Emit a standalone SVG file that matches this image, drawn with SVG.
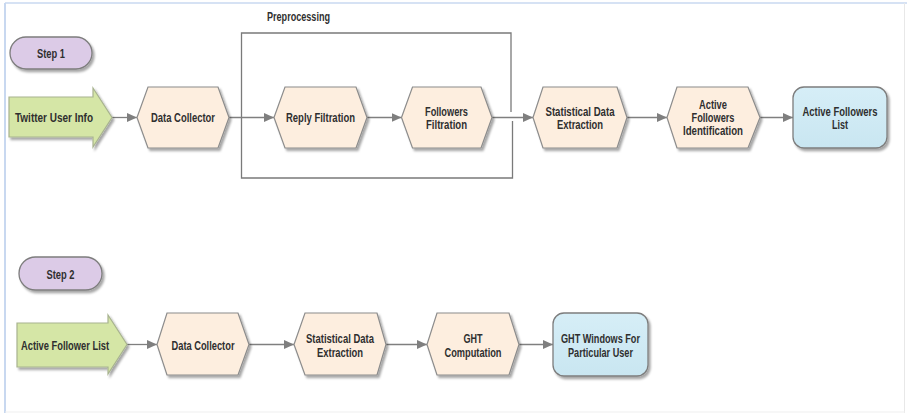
<svg xmlns="http://www.w3.org/2000/svg" width="907" height="413" viewBox="0 0 907 413">
<defs>
<filter id="sh" x="-10%" y="-10%" width="130%" height="135%">
<feDropShadow dx="2" dy="2.5" stdDeviation="1.2" flood-color="#000" flood-opacity="0.35"/>
</filter>
<marker id="ah" markerUnits="userSpaceOnUse" markerWidth="10" markerHeight="9" refX="10" refY="4.5" orient="auto">
<path d="M0,0 L10,4.5 L0,9 z" fill="#7f7f7f"/>
</marker>
<linearGradient id="blue" x1="0" y1="0" x2="0" y2="1">
<stop offset="0" stop-color="#d6eef7"/>
<stop offset="1" stop-color="#c9e6f1"/>
</linearGradient>
</defs>
<style>
.t{font-family:"Liberation Sans",Arial,sans-serif;font-weight:bold;font-size:12px;fill:#2f2f2f;text-anchor:middle}
.hex{fill:#fdeedf;stroke:#8c8c8c;stroke-width:1.2;filter:url(#sh)}
.arr{fill:#d5e6a6;stroke:#a8b38f;stroke-width:1.2;filter:url(#sh)}
.pill{fill:#dccbe7;stroke:#7d7d7d;stroke-width:1.3;filter:url(#sh)}
.box{fill:url(#blue);stroke:#7d7d7d;stroke-width:1.3;filter:url(#sh)}
.c{fill:none;stroke:#7f7f7f;stroke-width:1.3;marker-end:url(#ah)}
</style>
<rect width="907" height="413" fill="#fff"/>
<line x1="5" y1="3" x2="907" y2="3" stroke="#c8d8f0" stroke-width="1.5"/>
<line x1="5" y1="3" x2="5" y2="413" stroke="#c8d8f0" stroke-width="2"/>
<line x1="904.5" y1="3" x2="904.5" y2="413" stroke="#e8e8e8" stroke-width="1"/>
<line x1="5" y1="412" x2="905" y2="412" stroke="#efefef" stroke-width="1"/>

<g id="preprocessing">
<path d="M511,112 V33 H241.5 V178 H512.5 V121" fill="none" stroke="#7a7a7a" stroke-width="1.3"/>
<text class="t" x="298.5" y="20.5" textLength="63" lengthAdjust="spacingAndGlyphs">Preprocessing</text>
</g>

<g id="connectors">
<line class="c" x1="112" y1="117.5" x2="137" y2="117.5"/>
<line class="c" x1="229" y1="117.5" x2="274" y2="117.5"/>
<line class="c" x1="367" y1="117.5" x2="401.5" y2="117.5"/>
<line class="c" x1="492" y1="117.5" x2="533" y2="117.5"/>
<line class="c" x1="627" y1="117.5" x2="667" y2="117.5"/>
<line class="c" x1="760" y1="117.5" x2="793" y2="117.5"/>
<line class="c" x1="127" y1="344.5" x2="157" y2="344.5"/>
<line class="c" x1="249" y1="344.5" x2="294" y2="344.5"/>
<line class="c" x1="386" y1="344.5" x2="427" y2="344.5"/>
<line class="c" x1="519" y1="344.5" x2="553" y2="344.5"/>
</g>

<g id="step1">
<rect class="pill" x="10" y="37" width="82" height="32" rx="16"/>
<text class="t" x="51" y="57.5" textLength="28" lengthAdjust="spacingAndGlyphs">Step 1</text>
</g>
<g id="twitter-user-info">
<polygon class="arr" points="9,97 93,97 93,88 112,117.5 93,147 93,137 9,137"/>
<text class="t" x="54" y="122" textLength="78" lengthAdjust="spacingAndGlyphs">Twitter User Info</text>
</g>
<g id="data-collector-1">
<polygon class="hex" points="137,117.5 148,87 218,87 229,117.5 218,148 148,148"/>
<text class="t" x="183" y="122" textLength="64" lengthAdjust="spacingAndGlyphs">Data Collector</text>
</g>
<g id="reply-filtration">
<polygon class="hex" points="274,117.5 285,87 356,87 367,117.5 356,148 285,148"/>
<text class="t" x="320.5" y="122" textLength="69" lengthAdjust="spacingAndGlyphs">Reply Filtration</text>
</g>
<g id="followers-filtration">
<polygon class="hex" points="401.5,117.5 412.5,87 481,87 492,117.5 481,148 412.5,148"/>
<text class="t" x="446.5" y="115.5" textLength="43" lengthAdjust="spacingAndGlyphs">Followers</text>
<text class="t" x="446.5" y="128.5" textLength="41" lengthAdjust="spacingAndGlyphs">Filtration</text>
</g>
<g id="statistical-data-extraction-1">
<polygon class="hex" points="533,117.5 543,87 617,87 627,117.5 617,148 543,148"/>
<text class="t" x="580" y="115.5" textLength="69" lengthAdjust="spacingAndGlyphs">Statistical Data</text>
<text class="t" x="580" y="128.5" textLength="46" lengthAdjust="spacingAndGlyphs">Extraction</text>
</g>
<g id="active-followers-identification">
<polygon class="hex" points="667,117.5 677,87 748,87 760,117.5 748,148 677,148"/>
<text class="t" x="713" y="108.5" textLength="28" lengthAdjust="spacingAndGlyphs">Active</text>
<text class="t" x="713" y="121.5" textLength="43" lengthAdjust="spacingAndGlyphs">Followers</text>
<text class="t" x="713" y="135" textLength="60" lengthAdjust="spacingAndGlyphs">Identification</text>
</g>
<g id="active-followers-list">
<rect class="box" x="793" y="87" width="94" height="61" rx="11"/>
<text class="t" x="840" y="115.5" textLength="75" lengthAdjust="spacingAndGlyphs">Active Followers</text>
<text class="t" x="840" y="128.5" textLength="16" lengthAdjust="spacingAndGlyphs">List</text>
</g>

<g id="step2">
<rect class="pill" x="19" y="257" width="83" height="33" rx="16.5"/>
<text class="t" x="60.5" y="278.5" textLength="28" lengthAdjust="spacingAndGlyphs">Step 2</text>
</g>
<g id="active-follower-list">
<polygon class="arr" points="17,323 108,323 108,315 127,344.5 108,374 108,367 17,367"/>
<text class="t" x="65" y="349.5" textLength="88" lengthAdjust="spacingAndGlyphs">Active Follower List</text>
</g>
<g id="data-collector-2">
<polygon class="hex" points="157,344.5 167,313 238,313 249,344.5 238,375 167,375"/>
<text class="t" x="203" y="349.5" textLength="63" lengthAdjust="spacingAndGlyphs">Data Collector</text>
</g>
<g id="statistical-data-extraction-2">
<polygon class="hex" points="294,344.5 305,313 377,313 386,344.5 377,375 305,375"/>
<text class="t" x="340" y="342.5" textLength="68" lengthAdjust="spacingAndGlyphs">Statistical Data</text>
<text class="t" x="340" y="356.5" textLength="46" lengthAdjust="spacingAndGlyphs">Extraction</text>
</g>
<g id="ght-computation">
<polygon class="hex" points="427,344.5 437,313 509,313 519,344.5 509,375 437,375"/>
<text class="t" x="473" y="342.5" textLength="19" lengthAdjust="spacingAndGlyphs">GHT</text>
<text class="t" x="473" y="356.5" textLength="57" lengthAdjust="spacingAndGlyphs">Computation</text>
</g>
<g id="ght-windows">
<rect class="box" x="553" y="313" width="95" height="63" rx="11"/>
<text class="t" x="600.5" y="342.5" textLength="79" lengthAdjust="spacingAndGlyphs">GHT Windows For</text>
<text class="t" x="600.5" y="356.5" textLength="65" lengthAdjust="spacingAndGlyphs">Particular User</text>
</g>
</svg>
